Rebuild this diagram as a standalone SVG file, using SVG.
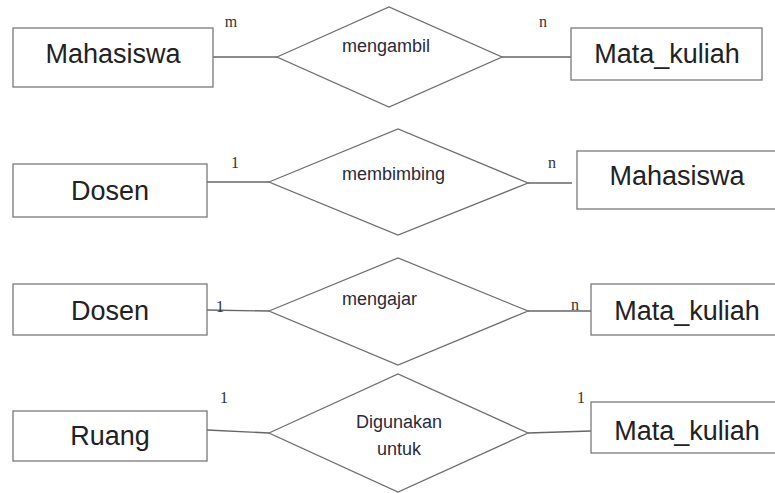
<svg xmlns="http://www.w3.org/2000/svg" width="775" height="493" viewBox="0 0 775 493">
<style>
.ent{fill:#fff;stroke:#7a7a7a;stroke-width:1.3}
.rel{fill:#fff;stroke:#6e6e6e;stroke-width:1.3}
.et{font-family:"Liberation Sans",Arial,sans-serif;font-size:27px;fill:#222;text-anchor:middle}
.rt{font-family:"Liberation Sans",Arial,sans-serif;font-size:18px;fill:#2a2a3a}
.ct{font-family:"Liberation Serif","Times New Roman",serif;font-size:16px;fill:#333;text-anchor:middle}
.ln{stroke:#666;stroke-width:1.3;fill:none}
</style>
<rect width="775" height="493" fill="#fff"/>
<g id="connectors">
<line class="ln" x1="213" y1="57" x2="277" y2="57"/>
<line class="ln" x1="502" y1="57" x2="571" y2="57"/>
<line class="ln" x1="207" y1="182" x2="269" y2="182"/>
<line class="ln" x1="528" y1="183" x2="572" y2="183"/>
<line class="ln" x1="207" y1="310" x2="269" y2="311"/>
<line class="ln" x1="528" y1="311" x2="591" y2="311"/>
<line class="ln" x1="207" y1="430" x2="269" y2="433"/>
<line class="ln" x1="528" y1="433" x2="591" y2="431"/>
<text class="ct" x="231" y="27">m</text>
<text class="ct" x="543" y="27">n</text>
<text class="ct" x="235" y="168">1</text>
<text class="ct" x="552" y="168">n</text>
<text class="ct" x="220" y="312">1</text>
<text class="ct" x="575" y="310">n</text>
<text class="ct" x="224" y="403">1</text>
<text class="ct" x="581" y="403">1</text>
</g>
<g id="mahasiswa1"><rect class="ent" x="13" y="28" width="200" height="59"/><text class="et" x="113" y="63">Mahasiswa</text></g>
<g id="mengambil"><polygon class="rel" points="277,57 389,7 502,57 389,107"/><text class="rt" x="342" y="52">mengambil</text></g>
<g id="matakuliah1"><rect class="ent" x="571" y="28" width="191" height="52"/><text class="et" x="667" y="63">Mata_kuliah</text></g>
<g id="dosen1"><rect class="ent" x="13" y="164" width="194" height="53"/><text class="et" x="110" y="200">Dosen</text></g>
<g id="membimbing"><polygon class="rel" points="269,182 398,129 528,183 398,235"/><text class="rt" x="342" y="180">membimbing</text></g>
<g id="mahasiswa2"><rect class="ent" x="577" y="151" width="200" height="58"/><text class="et" x="677" y="185">Mahasiswa</text></g>
<g id="dosen2"><rect class="ent" x="13" y="284" width="194" height="51"/><text class="et" x="110" y="320">Dosen</text></g>
<g id="mengajar"><polygon class="rel" points="269,311 398,258 528,311 398,365"/><text class="rt" x="342" y="305">mengajar</text></g>
<g id="matakuliah2"><rect class="ent" x="591" y="284" width="188" height="51"/><text class="et" x="687" y="320">Mata_kuliah</text></g>
<g id="ruang"><rect class="ent" x="13" y="411" width="194" height="50"/><text class="et" x="110" y="445">Ruang</text></g>
<g id="digunakan"><polygon class="rel" points="269,433 398,374 528,433 398,492"/><text class="rt" x="399" y="428" text-anchor="middle">Digunakan</text><text class="rt" x="399" y="455" text-anchor="middle">untuk</text></g>
<g id="matakuliah3"><rect class="ent" x="591" y="402" width="188" height="51"/><text class="et" x="687" y="440">Mata_kuliah</text></g>
</svg>
